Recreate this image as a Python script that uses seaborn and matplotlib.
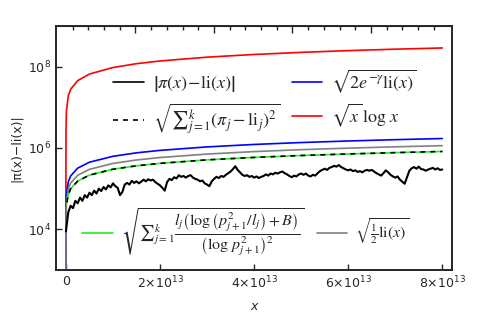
import numpy as np
import seaborn as sns
import matplotlib.pyplot as plt
from matplotlib.lines import Line2D
from matplotlib.ticker import FixedLocator, FixedFormatter, NullLocator

# smooth curves
x_smooth = [1e4, 1e6, 1e8, 1e10, 1e11, 5e11, 1e12, 2.5e12, 5e12, 1e13, 1.5e13,
            2e13, 3e13, 4e13, 5e13, 6e13, 7e13, 8e13]
red = [921, 1.38e4, 1.84e5, 2.3e6, 8.0e6, 1.9e7, 2.76e7, 4.51e7, 6.54e7, 9.46e7,
       1.175e8, 1.37e8, 1.70e8, 1.98e8, 2.23e8, 2.46e8, 2.67e8, 2.86e8]
blue = [37, 297, 2544, 2.26e4, 6.8e4, 1.47e5, 2.05e5, 3.19e5, 4.46e5, 6.23e5,
        7.58e5, 8.71e5, 1.06e6, 1.218e6, 1.357e6, 1.481e6, 1.596e6, 1.703e6]
gray = [25, 198, 1697, 1.51e4, 4.54e4, 9.8e4, 1.37e5, 2.13e5, 2.98e5, 4.16e5,
        5.06e5, 5.81e5, 7.07e5, 8.13e5, 9.06e5, 9.88e5, 1.065e6, 1.136e6]

x_sum = [2e11, 5e11, 1e12, 2.5e12, 5e12, 1e13, 1.5e13, 2e13, 3e13, 4e13, 5e13,
         6e13, 7e13, 8e13]
sum_vals = [4.6e4, 7.1e4, 9.9e4, 1.53e5, 2.15e5, 3.0e5, 3.64e5, 4.18e5, 5.09e5,
            5.85e5, 6.52e5, 7.11e5, 7.67e5, 8.18e5]

# |pi(x) - li(x)|, log10 values every 0.05e13 from 0 to 8e13
black_log = [
    3.95, 4.42, 4.58, 4.52, 4.70, 4.64, 4.78, 4.70, 4.84, 4.78,
    4.90, 4.84, 4.95, 4.88, 5.00, 4.94, 5.04, 4.98, 5.08, 5.03,
    5.13, 5.06, 5.02, 4.84, 4.92, 5.10, 5.14, 5.10, 5.19, 5.14,
    5.18, 5.13, 5.17, 5.22, 5.18, 5.23, 5.20, 5.22, 5.16, 5.12,
    5.08, 5.02, 4.95, 5.16, 5.24, 5.21, 5.28, 5.25, 5.33, 5.29,
    5.31, 5.27, 5.31, 5.33, 5.27, 5.24, 5.22, 5.18, 5.20, 5.13,
    5.10, 5.06, 5.18, 5.24, 5.29, 5.26, 5.31, 5.29, 5.34, 5.38,
    5.42, 5.48, 5.55, 5.46, 5.40, 5.34, 5.31, 5.33, 5.29, 5.31,
    5.27, 5.30, 5.26, 5.29, 5.31, 5.35, 5.32, 5.37, 5.35, 5.39,
    5.37, 5.40, 5.42, 5.38, 5.35, 5.31, 5.28, 5.32, 5.30, 5.35,
    5.37, 5.34, 5.37, 5.32, 5.30, 5.34, 5.32, 5.38, 5.43, 5.46,
    5.49, 5.46, 5.51, 5.53, 5.56, 5.54, 5.58, 5.53, 5.50, 5.47,
    5.45, 5.47, 5.43, 5.45, 5.41, 5.43, 5.40, 5.44, 5.46, 5.44,
    5.46, 5.42, 5.38, 5.35, 5.32, 5.38, 5.45, 5.40, 5.34, 5.30,
    5.27, 5.30, 5.22, 5.17, 5.12, 5.28, 5.44, 5.50, 5.53, 5.49,
    5.54, 5.48, 5.47, 5.44, 5.47, 5.49, 5.51, 5.47, 5.50, 5.46,
    5.47,
]
black_x = np.linspace(0, 8e13, len(black_log))
black_y = 10 ** np.array(black_log)

xticks = [0, 2e13, 4e13, 6e13, 8e13]
xticklabels = ['0', r'$2{\times}10^{13}$', r'$4{\times}10^{13}$',
               r'$6{\times}10^{13}$', r'$8{\times}10^{13}$']
yticks = [1e4, 1e6, 1e8]
yticklabels = [r'$10^{4}$', r'$10^{6}$', r'$10^{8}$']

sns.set_style('ticks')
plt.rcParams['font.family'] = ['DejaVu Sans']

fig = plt.figure(figsize=(4.79, 3.23), dpi=100)
ax = fig.add_axes([0.117, 0.164, 0.827, 0.756])

lw = 1.2
sns.lineplot(x=x_smooth, y=red, color='red', lw=lw, ax=ax, sort=False)
sns.lineplot(x=x_smooth, y=blue, color='blue', lw=lw, ax=ax, sort=False)
sns.lineplot(x=x_smooth, y=gray, color='gray', lw=lw, ax=ax, sort=False)
sns.lineplot(x=x_sum, y=sum_vals, color='#22ee22', lw=lw, ax=ax, sort=False)
sns.lineplot(x=x_sum, y=sum_vals, color='black', lw=lw, ax=ax, sort=False,
             linestyle=(0, (3, 3)))
sns.lineplot(x=black_x, y=black_y, color='black', lw=1.5, ax=ax, sort=False)

ax.set_yscale('log')
ax.set_xlim(-0.21e13, 8.21e13)
ax.set_ylim(1e3, 1e9)
ax.xaxis.set_major_locator(FixedLocator(xticks))
ax.xaxis.set_major_formatter(FixedFormatter(xticklabels))
ax.yaxis.set_major_locator(FixedLocator(yticks))
ax.yaxis.set_major_formatter(FixedFormatter(yticklabels))
ax.yaxis.set_minor_locator(NullLocator())
ax.tick_params(direction='in', length=4, width=1, labelsize=9)

for s in ax.spines.values():
    s.set_linewidth(1.4)

top = ax.secondary_xaxis('top')
top_minor = [0.14e13 + k * 0.334e13 for k in range(24)]
top.xaxis.set_major_locator(FixedLocator(top_minor[4::5]))
top.xaxis.set_minor_locator(FixedLocator(top_minor))
top.tick_params(which='both', direction='in', labeltop=False, width=1)
top.tick_params(which='major', length=5)
top.tick_params(which='minor', length=3)

ax.set_xlabel('x', fontsize=9, style='italic', labelpad=6)
ax.set_ylabel('|π(x)−li(x)|', fontsize=9, labelpad=4)

prop = dict(size=13, math_fontfamily='stix', family='serif')
h1 = [Line2D([], [], color='black', lw=lw),
      Line2D([], [], color='black', lw=lw, linestyle=(0, (3, 3))),
      Line2D([], [], color='blue', lw=lw),
      Line2D([], [], color='red', lw=lw)]
l1 = [r'$\left|\pi(x)\!-\!\mathrm{li}(x)\right|$',
      r'$\sqrt{{\sum}_{j=1}^{k}\left(\pi_j-\mathrm{li}_j\right)^2}$',
      r'$\sqrt{2e^{-\gamma}\mathrm{li}(x)}$',
      r'$\sqrt{x}\,\log\,x$']
leg1 = ax.legend(h1, l1, ncol=2, frameon=False, prop=prop,
                 loc='upper left', bbox_to_anchor=(0.103, 0.897),
                 handlelength=1.7, handletextpad=0.5, columnspacing=0.65,
                 labelspacing=0.4)
ax.add_artist(leg1)

prop2 = dict(size=11.5, math_fontfamily='stix', family='serif')
h2 = [Line2D([], [], color='#22ee22', lw=lw),
      Line2D([], [], color='gray', lw=lw)]
l2 = [r'$\sqrt{{\sum}_{j=1}^{k}\dfrac{l_j\left(\log\left(p_{j+1}^2/l_j\right)+B\right)}'
      r'{\left(\log\,p_{j+1}^2\right)^2}}$',
      r'$\sqrt{\frac{1}{2}\mathrm{li}(x)}$']
ax.legend(h2, l2, ncol=2, frameon=False, prop=prop2,
          loc='lower left', bbox_to_anchor=(0.03, -0.01),
          handlelength=1.9, handletextpad=0.5, columnspacing=0.8)

plt.savefig('out.png', dpi=100)
